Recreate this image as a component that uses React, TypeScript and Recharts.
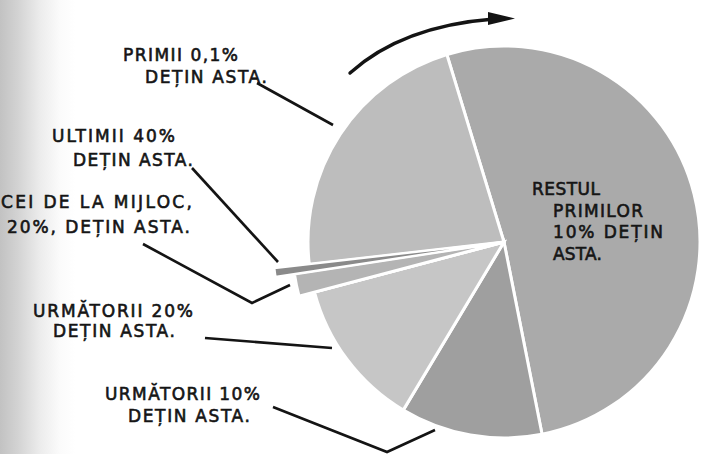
import React from 'react';
import { PieChart, Pie, Cell } from 'recharts';

// ---- data ----
const categories = [
  'Restul primilor 10%',
  'Următorii 10%',
  'Următorii 20%',
  'Cei de la mijloc 20%',
  'Ultimii 40%',
  'Primii 0,1%',
];
const shares = [51.6, 11.7, 12.3, 1.7, 0.6, 22.1];

// ---- styles ----
const sliceColors = ['#aaaaaa', '#9f9f9f', '#c6c6c6', '#b4b4b4', '#8a8a8a', '#bdbdbd'];
const CX = 504;
const CY = 242;
const R = 196;
const START = 106.95;
const W = 701;
const H = 454;

const data = categories.map((name, i) => ({ name, value: shares[i] }));

type Line = { text: string; x: number; y: number; len: number };

const labelLines: Line[] = [
  { text: 'PRIMII 0,1%', x: 123, y: 61, len: 115 },
  { text: 'DEȚIN ASTA.', x: 145, y: 83, len: 122 },
  { text: 'ULTIMII 40%', x: 52, y: 142, len: 123 },
  { text: 'DEȚIN ASTA.', x: 73, y: 166, len: 120 },
  { text: 'CEI DE LA MIJLOC,', x: 1, y: 208, len: 191 },
  { text: '20%, DEȚIN ASTA.', x: 7, y: 233, len: 183 },
  { text: 'URMĂTORII 20%', x: 33, y: 317, len: 160 },
  { text: 'DEȚIN ASTA.', x: 53, y: 337, len: 122 },
  { text: 'URMĂTORII 10%', x: 105, y: 400, len: 155 },
  { text: 'DEȚIN ASTA.', x: 128, y: 422, len: 122 },
  { text: 'RESTUL', x: 532, y: 195, len: 68 },
  { text: 'PRIMILOR', x: 553, y: 217, len: 90 },
  { text: '10% DEȚIN', x: 553, y: 238, len: 110 },
  { text: 'ASTA.', x: 553, y: 260, len: 49 },
];

const leaders: string[] = [
  '257,83 333,125',
  '192,168 278,262',
  '143,244 252,303 290,285',
  '205,338 332,348',
  '273,407 387,452 435,430',
];

function Overlay() {
  return (
    <svg
      width={W}
      height={H}
      style={{ position: 'absolute', left: 0, top: 0, pointerEvents: 'none' }}
    >
      {leaders.map((p, i) => (
        <polyline key={i} points={p} fill="none" stroke="#141414" strokeWidth={2.6} strokeLinejoin="miter" />
      ))}
      <path d="M350,73 Q402,26 494,19" fill="none" stroke="#141414" strokeWidth={3.4} strokeLinecap="round" />
      <polygon points="488,12 515,18.5 488,25" fill="#141414" />
      {labelLines.map((l, i) => (
        <text
          key={i}
          x={l.x}
          y={l.y}
          textLength={l.len}
          lengthAdjust="spacing"
          fontFamily="'DejaVu Sans', sans-serif"
          fontSize={17}
          fill="#151515"
          stroke="#151515"
          strokeWidth={0.6}
        >
          {l.text}
        </text>
      ))}
    </svg>
  );
}

export default function App() {
  return (
    <div
      style={{
        position: 'absolute',
        left: 0,
        top: 0,
        width: W,
        height: H,
        overflow: 'hidden',
        background:
          'linear-gradient(to right, #c2c2c2 0px, #d3d3d3 18px, #ececec 40px, #fbfbfb 60px, #ffffff 75px)',
      }}
    >
      <PieChart width={W} height={H} margin={{ top: 0, right: 0, bottom: 0, left: 0 }}>
        <Pie
          data={data}
          dataKey="value"
          nameKey="name"
          cx={CX}
          cy={CY}
          innerRadius={0}
          outerRadius={R}
          startAngle={START}
          endAngle={START - 360}
          stroke="#ffffff"
          strokeWidth={3}
          isAnimationActive={false}
        >
          {data.map((d, i) => (
            <Cell key={d.name} fill={sliceColors[i]} />
          ))}
        </Pie>
        <Pie
          data={data}
          dataKey="value"
          nameKey="name"
          cx={CX}
          cy={CY}
          innerRadius={0}
          outerRadius={212}
          startAngle={START}
          endAngle={START - 360}
          isAnimationActive={false}
        >
          {data.map((d, i) => (
            <Cell
              key={d.name}
              fill={i === 3 ? sliceColors[i] : 'none'}
              stroke={i === 3 ? '#ffffff' : 'none'}
              strokeWidth={3}
            />
          ))}
        </Pie>
        <Pie
          data={data}
          dataKey="value"
          nameKey="name"
          cx={CX}
          cy={CY}
          innerRadius={0}
          outerRadius={231}
          startAngle={START}
          endAngle={START - 360}
          isAnimationActive={false}
        >
          {data.map((d, i) => (
            <Cell
              key={d.name}
              fill={i === 4 ? sliceColors[i] : 'none'}
              stroke={i === 4 ? '#ffffff' : 'none'}
              strokeWidth={2}
            />
          ))}
        </Pie>
      </PieChart>
      <Overlay />
    </div>
  );
}
